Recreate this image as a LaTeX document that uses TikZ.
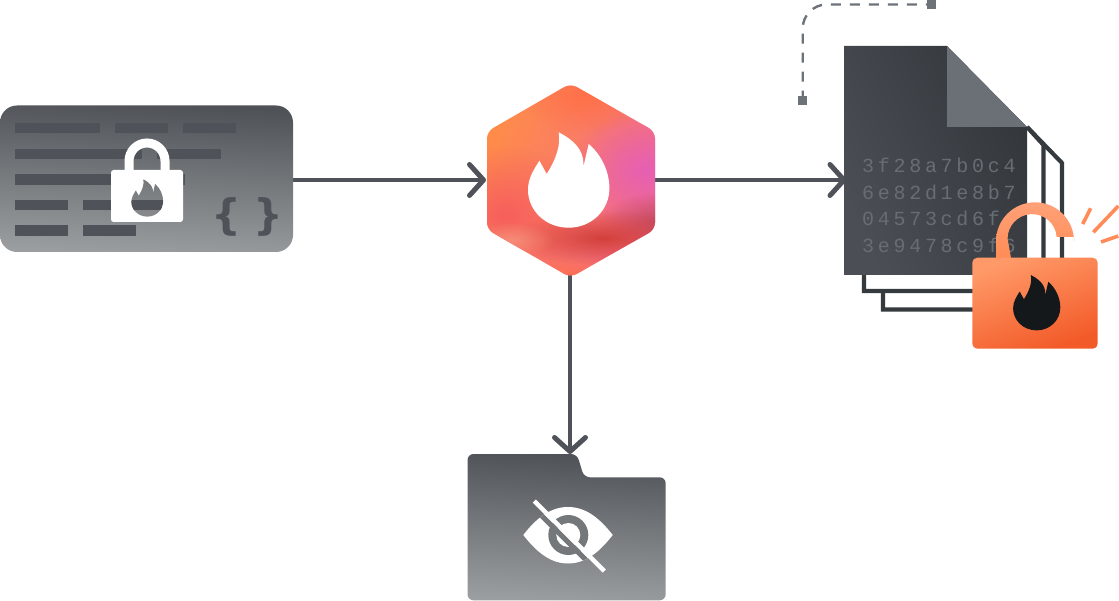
\documentclass[tikz,border=0pt]{standalone}
\usepackage{fontspec}
\usetikzlibrary{arrows.meta,fadings}
\setmonofont[LetterSpace=18.5]{Liberation Mono}
\newfontfamily\bracefont{DejaVu Sans}[BoldFont={DejaVu Sans Bold}]
\definecolor{barcol}{HTML}{4F5359}
\definecolor{gtop}{HTML}{4E5257}
\definecolor{gbot}{HTML}{9B9EA0}
\definecolor{sheetl}{HTML}{4B4F55}
\definecolor{sheetr}{HTML}{33373C}
\definecolor{foldcol}{HTML}{6B7077}
\definecolor{sheetline}{HTML}{353A3F}
\definecolor{hexcode}{HTML}{686D73}
\definecolor{dashcol}{HTML}{6D7279}
\definecolor{sparkcol}{HTML}{FF8B58}
\definecolor{flamedark}{HTML}{14181B}
\definecolor{hexa}{HTML}{FF8C48}
\definecolor{hexb}{HTML}{F2688C}
\definecolor{lockl}{HTML}{FFA178}
\definecolor{lockd}{HTML}{FF8C55}
\definecolor{locka}{HTML}{FF9A68}
\definecolor{lockb}{HTML}{F25A28}
\definecolor{eyegap}{HTML}{75787B}
\definecolor{gpink}{HTML}{E660B4}
\definecolor{gred}{HTML}{D2403A}
\definecolor{glight}{HTML}{F58C78}
\definecolor{gorange}{HTML}{FF6E45}
\definecolor{gdark}{HTML}{C24A5E}
\definecolor{gtopo}{HTML}{FF7048}
\definecolor{gcoral}{HTML}{F75F5C}
\tikzfading[name=softglow,inner color=transparent!0,outer color=transparent!100]
\tikzset{
  conn/.style={draw=barcol,line width=4.4pt,-{Straight Barb[length=14pt,width=31pt,line width=5pt,round]},line cap=round},
  bar/.style={fill=barcol},
  anchorbox/.style={inner sep=0pt,outer sep=0pt,draw=none,rectangle},
  dashline/.style={draw=dashcol,line width=2.4pt,dash pattern=on 10pt off 9pt},
  spark/.style={draw=sparkcol,line width=3.6pt},
  codetext/.style={text=hexcode,font=\ttfamily\fontsize{20}{20}\selectfont,anchor=base west,inner sep=0pt},
  sheet/.style={draw=sheetline,line width=4.2pt,fill=white,miter limit=10},
  glow/.style={fill=#1,path fading=softglow},
}
% flame outline, 81 units wide, centred on the origin
\newcommand{\flamepath}[2]{%
  [shift={(#1)},scale=#2]
  (-10,-47.7) .. controls (11.3,-36.7) and (15.3,-25) .. (14.7,-13.3)
  -- (20,-36) .. controls (33,-25) and (40.7,-8) .. (40.7,8.3)
  .. controls (40.7,30) and (23,47.7) .. (0,47.7)
  .. controls (-23.7,47.7) and (-40.7,30) .. (-40.7,10)
  .. controls (-40.7,-2) and (-35,-10) .. (-29.3,-19.3)
  -- (-22,-6) .. controls (-12,-22) and (-8,-35) .. (-10,-47.7) -- cycle}
\newcommand{\eyepath}{(523.3,535) .. controls (538,516) and (552,507) .. (568,507) .. controls (584,507) and (598,516) .. (612.7,535)
  .. controls (598,554) and (584,563.5) .. (568,563.5) .. controls (552,563.5) and (538,554) .. (523.3,535) -- cycle}
\begin{document}
\begin{tikzpicture}[x=1pt,y=-1pt]
\useasboundingbox (0,0) rectangle (1119,601);
% anchors for connectors
\node[anchorbox,minimum width=293pt,minimum height=146pt] (card) at (146.5,179) {};
\node[anchorbox,minimum width=169pt,minimum height=191pt] (hex) at (570.5,180.5) {};
\node[anchorbox,minimum width=198pt,minimum height=147pt] (folder) at (566.5,527.5) {};
\node[anchorbox,minimum width=183pt,minimum height=229pt] (doc) at (936,160.5) {};
% connectors
\draw[conn] (card.east |- 0,180) -- (hex.west |- 0,180);
\draw[conn] (hex.east |- 0,180) -- ([xshift=2pt]doc.west |- 0,180);
\draw[conn] (hex.south -| 570,0) -- (folder.north -| 570,0);
% card
\shade[top color=gtop,bottom color=gbot,shading angle=-3,rounded corners=17pt] (0,105.5) rectangle (293,252);
\foreach \xa/\ya/\xb/\yb in {15/123.3/100/133.3,115/123.3/168/133.3,183/123.3/236/133.3,
  15/148.7/142/158.7,157/148.7/221/158.7,
  15/174.3/185/184.7,
  15/200/68/210,83/200/163/210,
  15/225.3/68/235.7,83/225.3/136/235.7}
  \fill[bar] (\xa,\ya) rectangle (\xb,\yb);
\node[text=barcol,font=\bracefont\bfseries\fontsize{42}{42}\selectfont,inner sep=0pt] (bl) at (226,217) {\{};
\node[text=barcol,font=\bracefont\bfseries\fontsize{42}{42}\selectfont,inner sep=0pt] (br) at (268,217) {\}};
% card lock
\draw[white,line width=9pt] (129,172) -- (129,161) arc[start angle=180,end angle=360,radius=18] -- (165,172);
\fill[white,rounded corners=2.7pt] (111,170) rectangle (183,222);
% flame hole shows the card below
\begin{scope}
  \path[clip] \flamepath{147.3,198}{0.39};
  \shade[top color=gtop,bottom color=gbot,shading angle=-3] (0,105.5) rectangle (293,252);
  \fill[bar] (83,200) rectangle (163,210);
\end{scope}
% hexagon
\begin{scope}
  \path[clip,rounded corners=7pt] (570.5,83.5) -- (655,131.5) -- (655,229.5) -- (570.5,277.5) -- (487,229.5) -- (487,131.5) -- cycle;
  \shade[left color=hexa,right color=hexb,shading angle=65] (480,80) rectangle (662,280);
  \fill[glow=gcoral] (505,215) ellipse [x radius=85,y radius=70];
  \fill[glow=gtopo] (585,95) ellipse [x radius=65,y radius=40];
  \fill[glow=gpink] (645,170) ellipse [x radius=75,y radius=60];
  \fill[glow=gdark] (660,222) ellipse [x radius=60,y radius=30];
  \fill[glow=gred] (603,238) ellipse [x radius=90,y radius=28];
  \fill[glow=gorange] (570,282) ellipse [x radius=65,y radius=28];
  \fill[glow=glight] (512,240) ellipse [x radius=42,y radius=18];
\end{scope}
\fill[white] \flamepath{568.7,180}{1};
% folder
\shade[top color=gtop,bottom color=gbot,shading angle=-3,rounded corners=6pt]
  (467.5,454) -- (577,454) -- (584,477.3) -- (665.7,477.3) -- (665.7,600.3) -- (467.5,600.3) -- cycle;
% eye
\fill[white] \eyepath;
\begin{scope}
  \path[clip] \eyepath;
  \fill[eyegap] (568.3,535) circle (20);
  \fill[white] (568.3,535) circle (12);
  \draw[eyegap,line width=5pt] (530.5,504.5) -- (600.5,574.5);
\end{scope}
\draw[white,line width=4.5pt] (534.3,501) -- (604.3,571);
% document sheets
\draw[sheet] (1027,127) -- (1062,163) -- (1062,309.5) -- (883,309.5) -- (883,270);
\draw[sheet] (1027,127) -- (1043.5,145) -- (1043.5,291) -- (864,291) -- (864,270);
\shade[left color=sheetl,right color=sheetr,shading angle=115] (844,46) -- (947,46) -- (1027,127) -- (1027,275) -- (844,275) -- cycle;
\fill[foldcol] (947,46) -- (1027,127) -- (947,127) -- cycle;
\node[codetext] (c1) at (862,173) {3f28a7b0c4};
\node[codetext] (c2) at (862,200) {6e82d1e8b7};
\node[codetext] (c3) at (862,226) {04573cd6f};
\node[codetext] (c4) at (862,253) {3e9478c9f6};
% dashed
\node[anchorbox,fill=dashcol,minimum size=9pt] (sqa) at (802.7,100.7) {};
\node[anchorbox,fill=dashcol,minimum size=9pt] (sqb) at (931.3,4.5) {};
\draw[dashline,rounded corners=24pt] (sqa.center) |- (sqb.center);
% orange lock
\shade[top color=lockl,bottom color=lockd] (996,258) -- (996,241.3) arc[start angle=180,end angle=360,radius=39] -- (1074,237) -- (1056.7,237) arc[start angle=356,end angle=180,radius=24.6] -- (1011,258) -- cycle;
\shade[top color=locka,bottom color=lockb,shading angle=20,rounded corners=5pt] (972.3,257.7) rectangle (1097.7,348.7);
\fill[flamedark] \flamepath{1036.7,302.7}{0.58};
% sparks
\coordinate (s1a) at (1090.7,208.3); \coordinate (s1b) at (1082.7,224);
\coordinate (s2a) at (1118.3,206); \coordinate (s2b) at (1093.3,232.3);
\coordinate (s3a) at (1118.3,236); \coordinate (s3b) at (1101,242);
\draw[spark] (s1a) -- (s1b);
\draw[spark] (s2a) -- (s2b);
\draw[spark] (s3a) -- (s3b);
\end{tikzpicture}
\end{document}
